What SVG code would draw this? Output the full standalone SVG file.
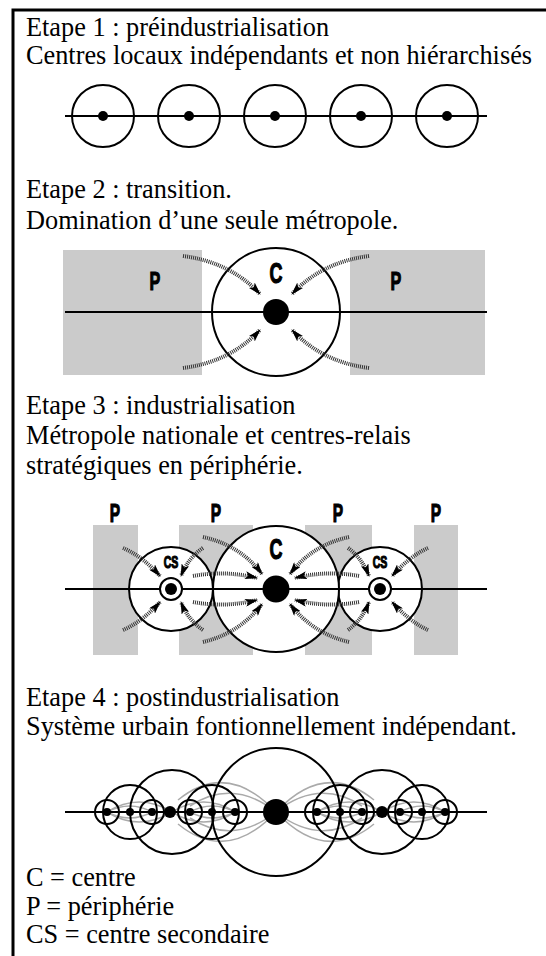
<svg xmlns="http://www.w3.org/2000/svg" width="546" height="956" viewBox="0 0 546 956">
<style>
.t{font-family:"Liberation Serif","Times New Roman",serif;font-size:26.3px;fill:#000}
.lbl{font-family:"Liberation Sans",Arial,sans-serif;font-weight:bold;fill:#000;stroke:#000;stroke-width:1.2;text-anchor:middle}
.ax{stroke:#000;stroke-width:2;fill:none}
.c{stroke:#000;stroke-width:2;fill:none}
.cw{stroke:#000;stroke-width:2;fill:#fff}
.g{fill:#cbcbcb}
.h{stroke:#333;stroke-width:4;stroke-dasharray:1 1;fill:none;marker-end:url(#ah)}
.gl{stroke:#aaa;stroke-width:1.5;fill:none}
</style>
<defs>
<marker id="ah" markerUnits="userSpaceOnUse" viewBox="0 0 13 8" refX="12" refY="4" markerWidth="13" markerHeight="8" orient="auto">
<path d="M0,0 L13,4 L0,8 L3,4 z" fill="#000"/>
</marker>
</defs>
<path d="M13,956 V10 H546" fill="none" stroke="#000" stroke-width="3"/>

<g id="stage1">
<text class="t" x="26" y="36">Etape 1 : préindustrialisation</text>
<text class="t" x="26" y="64">Centres locaux indépendants et non hiérarchisés</text>
<line class="ax" x1="65" y1="116" x2="487" y2="116"/>
<g id="s1n1"><circle class="c" cx="103" cy="116" r="31"/><circle cx="103" cy="116" r="5"/></g>
<g id="s1n2"><circle class="c" cx="189" cy="116" r="31"/><circle cx="189" cy="116" r="5"/></g>
<g id="s1n3"><circle class="c" cx="275" cy="116" r="31"/><circle cx="275" cy="116" r="5"/></g>
<g id="s1n4"><circle class="c" cx="361" cy="116" r="31"/><circle cx="361" cy="116" r="5"/></g>
<g id="s1n5"><circle class="c" cx="447" cy="116" r="31"/><circle cx="447" cy="116" r="5"/></g>
</g>

<g id="stage2">
<text class="t" x="26" y="198">Etape 2 : transition.</text>
<text class="t" x="26" y="229">Domination d’une seule métropole.</text>
<g id="s2p1"><rect class="g" x="63" y="250" width="139" height="125"/><text class="lbl" transform="translate(155,290) scale(0.62,1)" font-size="26">P</text></g>
<g id="s2p2"><rect class="g" x="350" y="250" width="135" height="125"/><text class="lbl" transform="translate(396,290) scale(0.62,1)" font-size="26">P</text></g>
<line class="ax" x1="65" y1="312" x2="487" y2="312"/>
<g id="s2c"><circle class="c" cx="276" cy="312" r="64"/><circle cx="276" cy="312" r="13"/><text class="lbl" transform="translate(276,283) scale(0.62,1)" font-size="29">C</text></g>
<g id="s2arrows">
<path class="h" d="M183,256 Q230,262 260,294"/>
<path class="h" d="M369,256 Q322,262 292,294"/>
<path class="h" d="M183,368 Q230,362 260,330"/>
<path class="h" d="M369,368 Q322,362 292,330"/>
</g>
</g>

<g id="stage3">
<text class="t" x="26" y="414">Etape 3 : industrialisation</text>
<text class="t" x="26" y="444">Métropole nationale et centres-relais</text>
<text class="t" x="26" y="474">stratégiques en périphérie.</text>
<g id="s3p1"><rect class="g" x="93" y="525" width="45" height="130"/><text class="lbl" transform="translate(115,522) scale(0.62,1)" font-size="25">P</text></g>
<g id="s3p2"><rect class="g" x="179" y="525" width="74" height="130"/><text class="lbl" transform="translate(216,522) scale(0.62,1)" font-size="25">P</text></g>
<g id="s3p3"><rect class="g" x="305" y="525" width="67" height="130"/><text class="lbl" transform="translate(338,522) scale(0.62,1)" font-size="25">P</text></g>
<g id="s3p4"><rect class="g" x="414" y="525" width="44" height="130"/><text class="lbl" transform="translate(436,522) scale(0.62,1)" font-size="25">P</text></g>
<g id="s3cs1"><circle class="cw" cx="171" cy="589" r="42"/></g>
<g id="s3cs2"><circle class="cw" cx="380" cy="589" r="42"/></g>
<g id="s3c"><circle class="cw" cx="276" cy="589" r="63"/></g>
<line class="ax" x1="65" y1="589" x2="487" y2="589"/>
<circle class="cw" cx="171" cy="589" r="11"/><circle cx="171" cy="589" r="6"/>
<circle class="cw" cx="380" cy="589" r="11"/><circle cx="380" cy="589" r="6"/>
<circle cx="276" cy="589" r="13.5"/>
<text class="lbl" transform="translate(171,568) scale(0.62,1)" font-size="17">CS</text>
<text class="lbl" transform="translate(380,568) scale(0.62,1)" font-size="17">CS</text>
<text class="lbl" transform="translate(276,559) scale(0.62,1)" font-size="29">C</text>
<g id="s3arrows">
<path class="h" d="M123,548 Q142,556 160,576"/>
<path class="h" d="M203,548 Q188,558 181,576"/>
<path class="h" d="M123,630 Q142,622 160,602"/>
<path class="h" d="M203,630 Q188,620 181,602"/>
<path class="h" d="M348,548 Q362,558 369,576"/>
<path class="h" d="M428,548 Q410,556 392,576"/>
<path class="h" d="M348,630 Q362,620 369,602"/>
<path class="h" d="M428,630 Q410,622 392,602"/>
<path class="h" d="M203,537 Q240,545 262,574"/>
<path class="h" d="M193,576 Q225,570 257,578"/>
<path class="h" d="M193,602 Q225,608 257,600"/>
<path class="h" d="M203,642 Q240,633 262,604"/>
<path class="h" d="M349,537 Q312,545 290,574"/>
<path class="h" d="M359,576 Q327,570 295,578"/>
<path class="h" d="M359,602 Q327,608 295,600"/>
<path class="h" d="M349,642 Q312,633 290,604"/>
</g>
</g>

<g id="stage4">
<text class="t" x="26" y="706">Etape 4 : postindustrialisation</text>
<text class="t" x="26" y="735">Système urbain fontionnellement indépendant.</text>
<g id="s4gray">
<path class="gl" d="M178,800 Q227,760 276,812 Q325,760 374,800"/>
<path class="gl" d="M178,824 Q227,864 276,812 Q325,864 374,824"/>
<path class="gl" d="M190,806 Q233,778 276,812 Q319,778 362,806"/>
<path class="gl" d="M190,818 Q233,846 276,812 Q319,846 362,818"/>
<path class="gl" d="M107,812 Q139,792 172,812 Q204,792 235,812 Q204,832 172,812 Q139,832 107,812"/>
<path class="gl" d="M317,812 Q349,792 382,812 Q414,792 445,812 Q414,832 382,812 Q349,832 317,812"/>
<path class="gl" d="M107,812 Q130,800 152,812 Q130,824 107,812"/>
<path class="gl" d="M190,812 Q212,800 235,812 Q212,824 190,812"/>
<path class="gl" d="M317,812 Q340,800 362,812 Q340,824 317,812"/>
<path class="gl" d="M400,812 Q422,800 445,812 Q422,824 400,812"/>
</g>
<line class="ax" x1="65" y1="812" x2="487" y2="812"/>
<circle class="c" cx="276" cy="812" r="64"/>
<circle class="c" cx="172" cy="812" r="42"/>
<circle class="c" cx="382" cy="812" r="42"/>
<circle class="c" cx="130" cy="812" r="27"/>
<circle class="c" cx="212" cy="812" r="27"/>
<circle class="c" cx="340" cy="812" r="27"/>
<circle class="c" cx="422" cy="812" r="27"/>
<g fill="#000">
<circle cx="276" cy="812" r="13"/>
<circle cx="170" cy="812" r="6"/><circle cx="382" cy="812" r="6"/>
<circle cx="130" cy="812" r="4"/><circle cx="212" cy="812" r="4"/><circle cx="340" cy="812" r="4"/><circle cx="422" cy="812" r="4"/>
<circle cx="107" cy="812" r="4"/><circle cx="152" cy="812" r="4"/><circle cx="190" cy="812" r="4"/><circle cx="235" cy="812" r="4"/>
<circle cx="317" cy="812" r="4"/><circle cx="362" cy="812" r="4"/><circle cx="400" cy="812" r="4"/><circle cx="445" cy="812" r="4"/>
</g>
<g class="c">
<circle cx="107" cy="812" r="12"/><circle cx="152" cy="812" r="12"/><circle cx="190" cy="812" r="12"/><circle cx="235" cy="812" r="12"/>
<circle cx="317" cy="812" r="12"/><circle cx="362" cy="812" r="12"/><circle cx="400" cy="812" r="12"/><circle cx="445" cy="812" r="12"/>
</g>
</g>

<g id="legend">
<text class="t" x="26" y="886">C = centre</text>
<text class="t" x="26" y="915">P = périphérie</text>
<text class="t" x="26" y="943">CS = centre secondaire</text>
</g>
</svg>
